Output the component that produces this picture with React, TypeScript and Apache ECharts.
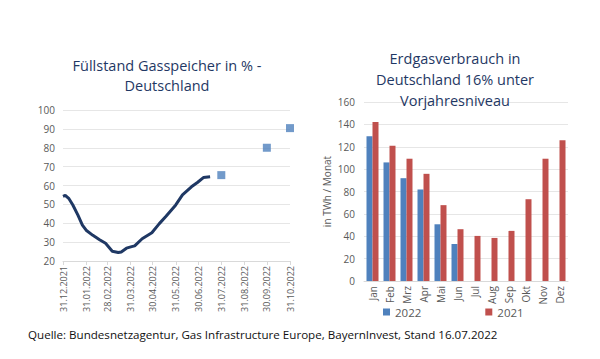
import React, { useEffect, useRef } from "react";
import * as echarts from "echarts";

// ---- Left chart: storage fill level (%) ----
const tickLabels = [
  "31.12.2021", "31.01.2022", "28.02.2022", "31.03.2022", "30.04.2022", "31.05.2022",
  "30.06.2022", "31.07.2022", "31.08.2022", "30.09.2022", "31.10.2022",
];
const fillDates = [
  "31.12.2021", "03.01.2022", "08.01.2022", "13.01.2022", "20.01.2022", "26.01.2022",
  "31.01.2022", "09.02.2022", "18.02.2022", "26.02.2022", "07.03.2022", "15.03.2022",
  "19.03.2022", "26.03.2022", "02.04.2022", "06.04.2022", "16.04.2022", "29.04.2022",
  "09.05.2022", "18.05.2022", "31.05.2022", "09.06.2022", "21.06.2022", "29.06.2022",
  "07.07.2022", "16.07.2022",
];
const fillValues = [
  54.3, 54.8, 53.0, 49.8, 44.3, 39.0,
  36.3, 33.6, 31.3, 29.4, 25.2, 24.5,
  24.8, 26.8, 27.6, 28.0, 31.8, 35.0,
  39.8, 43.7, 49.7, 55.0, 59.3, 61.6,
  64.2, 64.6,
];
const targetDates = ["31.07.2022", "30.09.2022", "31.10.2022"];
const targetValues = [65.5, 80, 90.4];

// ---- Right chart: gas consumption ----
const months = ["Jan", "Feb", "Mrz", "Apr", "Mai", "Jun", "Jul", "Aug", "Sep", "Okt", "Nov", "Dez"];
const cons2022 = [129.3, 106, 91.9, 81.8, 50.7, 33.1, null, null, null, null, null, null];
const cons2021 = [142.1, 120.9, 109.3, 95.8, 67.8, 46.3, 40.3, 38.5, 44.8, 73.1, 109.3, 125.7];

function pad(n: number) {
  return n < 10 ? "0" + n : "" + n;
}
function dayCategories(): string[] {
  const out: string[] = [];
  const d = new Date(2021, 11, 31);
  const end = new Date(2022, 9, 31);
  while (d <= end) {
    out.push(pad(d.getDate()) + "." + pad(d.getMonth() + 1) + "." + d.getFullYear());
    d.setDate(d.getDate() + 1);
  }
  return out;
}

const FONT = "Open Sans";
const GREY = "#595959";
const TITLE = "#1F3864";

export default function App() {
  const ref = useRef<HTMLDivElement>(null);
  useEffect(() => {
    if (!ref.current) return;
    const chart = echarts.init(ref.current, undefined, { renderer: "svg" });
    const days = dayCategories();
    const showTick = (_i: number, v: string) => tickLabels.indexOf(v) >= 0;
    chart.setOption({
      animation: false,
      backgroundColor: "#ffffff",
      textStyle: { fontFamily: FONT },
      title: [
        {
          text: "Füllstand Gasspeicher in % -\nDeutschland",
          left: 167,
          top: 55,
          padding: 0,
          textAlign: "center",
          textStyle: { fontFamily: FONT, fontSize: 14.5, fontWeight: "normal", color: TITLE, lineHeight: 20 },
        },
        {
          text: "Erdgasverbrauch in\nDeutschland 16% unter\nVorjahresniveau",
          left: 455,
          top: 48,
          padding: 0,
          textAlign: "center",
          textStyle: { fontFamily: FONT, fontSize: 14.5, fontWeight: "normal", color: TITLE, lineHeight: 21 },
        },
        {
          text: "Quelle: Bundesnetzagentur, Gas Infrastructure Europe, BayernInvest, Stand 16.07.2022",
          left: 28,
          top: 328,
          padding: 0,
          textStyle: { fontFamily: FONT, fontSize: 11.6, fontWeight: "normal", color: "#111111" },
        },
      ],
      legend: {
        data: ["2022", "2021"],
        left: 378,
        top: 301,
        icon: "rect",
        itemWidth: 7,
        itemHeight: 7,
        itemGap: 64,
        textStyle: { fontFamily: FONT, fontSize: 11.5, color: GREY },
      },
      grid: [
        { left: 63, top: 110, width: 227, height: 151 },
        { left: 364, top: 102, width: 204, height: 179 },
      ],
      xAxis: [
        {
          type: "category",
          gridIndex: 0,
          data: days,
          boundaryGap: false,
          axisLine: { lineStyle: { color: "#D9D9D9" } },
          axisTick: { interval: showTick, length: 4, lineStyle: { color: "#D9D9D9" } },
          axisLabel: { interval: showTick, rotate: 90, fontSize: 9, color: GREY, fontFamily: FONT, margin: 5 },
        },
        {
          type: "category",
          gridIndex: 1,
          data: months,
          axisLine: { lineStyle: { color: "#D9D9D9" } },
          axisTick: { show: false },
          axisLabel: { rotate: 90, fontSize: 10, color: GREY, fontFamily: FONT, margin: 5 },
        },
      ],
      yAxis: [
        {
          type: "value",
          gridIndex: 0,
          min: 20,
          max: 100,
          interval: 10,
          axisLine: { show: false },
          axisTick: { show: false },
          splitLine: { lineStyle: { color: "#E6E6E6" } },
          axisLabel: { fontSize: 10, color: GREY, fontFamily: FONT, margin: 8 },
        },
        {
          type: "value",
          gridIndex: 1,
          min: 0,
          max: 160,
          interval: 20,
          name: "in TWh / Monat",
          nameLocation: "middle",
          nameRotate: 90,
          nameGap: 32,
          nameTextStyle: { fontSize: 10, color: GREY, fontFamily: FONT },
          axisLine: { show: false },
          axisTick: { show: false },
          splitLine: { lineStyle: { color: "#E6E6E6" } },
          axisLabel: { fontSize: 10, color: GREY, fontFamily: FONT, margin: 9 },
        },
      ],
      series: [
        {
          type: "line",
          xAxisIndex: 0,
          yAxisIndex: 0,
          data: fillDates.map((d, i) => [d, fillValues[i]]),
          showSymbol: false,
          symbol: "none",
          smooth: false,
          lineStyle: { color: "#1F3864", width: 3 },
          itemStyle: { color: "#1F3864" },
        },
        {
          type: "scatter",
          xAxisIndex: 0,
          yAxisIndex: 0,
          data: targetDates.map((d, i) => [d, targetValues[i]]),
          symbol: "rect",
          symbolSize: 8,
          itemStyle: { color: "#4F81BD" },
        },
        {
          name: "2022",
          type: "bar",
          xAxisIndex: 1,
          yAxisIndex: 1,
          data: cons2022,
          barWidth: 6,
          barGap: "0%",
          itemStyle: { color: "#4F81BD" },
        },
        {
          name: "2021",
          type: "bar",
          xAxisIndex: 1,
          yAxisIndex: 1,
          data: cons2021,
          barWidth: 6,
          barGap: "0%",
          itemStyle: { color: "#C0504D" },
        },
      ],
    });
    return () => chart.dispose();
  }, []);
  return (
    <div
      ref={ref}
      style={{ position: "fixed", left: 0, top: 0, width: 600, height: 359, background: "#fff" }}
    />
  );
}
